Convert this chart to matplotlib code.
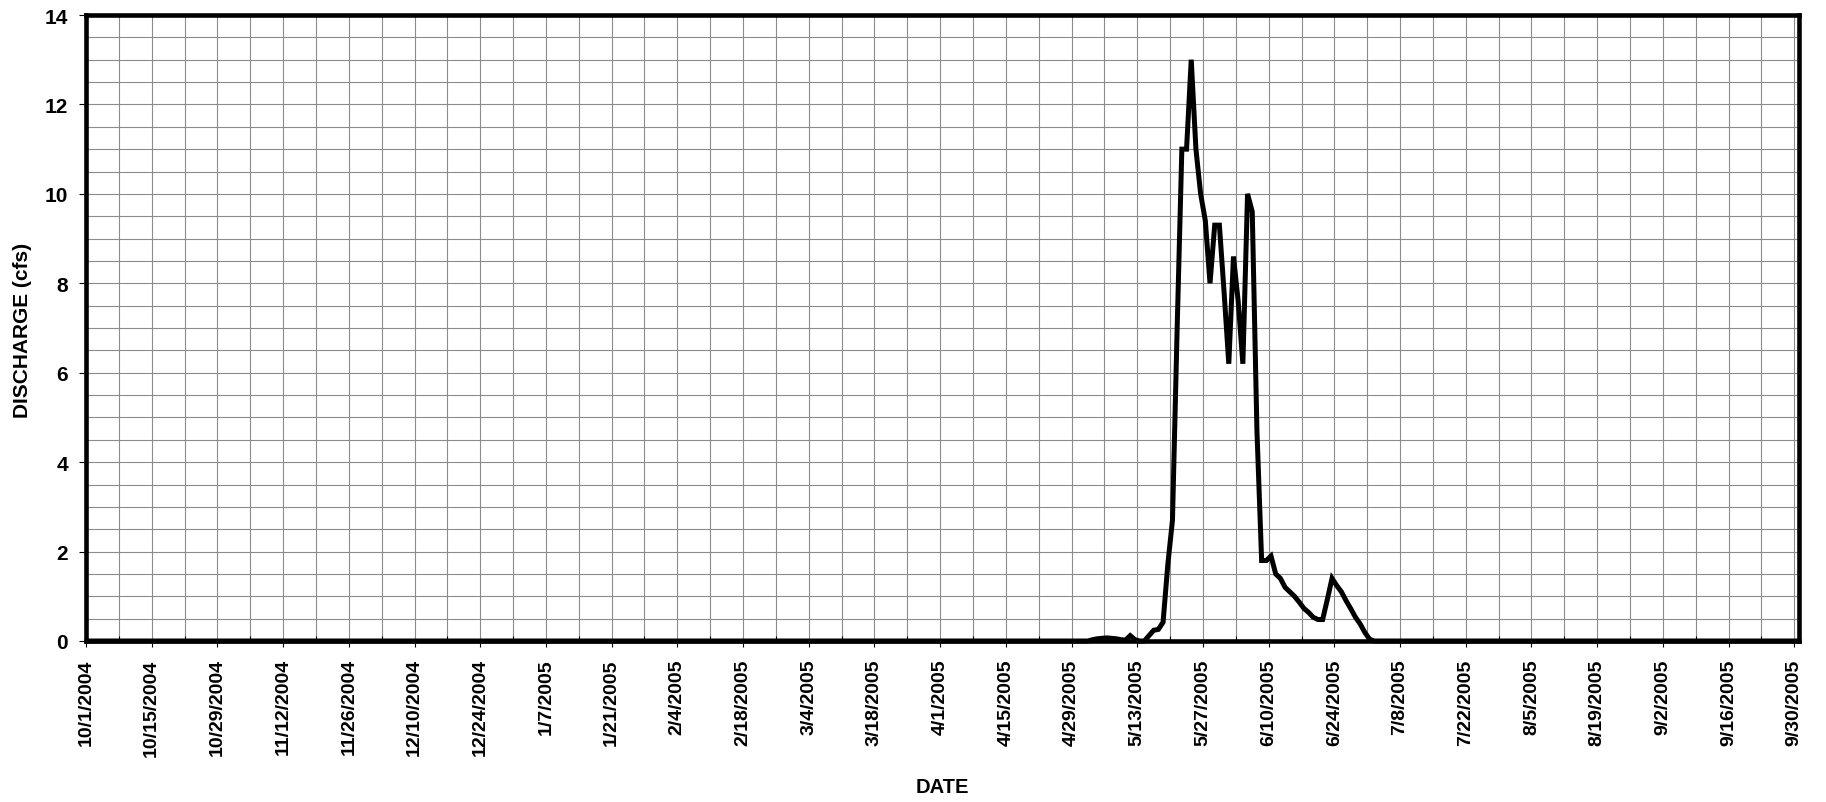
import matplotlib
matplotlib.use("Agg")
import matplotlib.pyplot as plt
import matplotlib.dates as mdates
import numpy as np
import pandas as pd

# ---- data -------------------------------------------------------------
start_date = "2004-10-01"
end_date = "2005-10-01"
# flat zero stretches before/after the event
pre_dates = ["2004-10-01"]
pre_values = [0.0]
# daily values from 5/2/2005 through 7/2/2005
event_start = "2005-05-02"
event_values = [0.0, 0.03, 0.05, 0.06, 0.07, 0.06, 0.05, 0.03, 0.02, 0.12,
                0.03, 0.0, 0.0, 0.12, 0.24, 0.26, 0.42, 1.7, 2.7, 7.0,
                11.0, 11.0, 13.0, 11.0, 10.0, 9.4, 8.0, 9.3, 9.3, 7.8,
                6.2, 8.6, 7.6, 6.2, 10.0, 9.6, 4.7, 1.8, 1.8, 1.9,
                1.5, 1.4, 1.2, 1.1, 1.0, 0.87, 0.73, 0.64, 0.53, 0.48,
                0.48, 0.93, 1.4, 1.24, 1.1, 0.9, 0.72, 0.53, 0.38, 0.19,
                0.04, 0.0]
post_dates = ["2005-09-30"]
post_values = [0.0]

y_ticks = [0, 2, 4, 6, 8, 10, 12, 14]

# ---- build series -----------------------------------------------------
event_dates = pd.date_range(event_start, periods=len(event_values), freq="D")
all_dates = list(pd.to_datetime(pre_dates)) + list(event_dates) + list(pd.to_datetime(post_dates))
all_vals = pre_values + event_values + post_values
x = mdates.date2num(all_dates) + 0.5

W, H = 1826, 803
fig = plt.figure(figsize=(W / 100, H / 100), dpi=100)
plt.rcParams['font.family'] = ['Liberation Sans', 'DejaVu Sans']
ax = fig.add_axes([86 / W, 1 - 642 / H, (1799 - 86) / W, (642 - 16) / H])

x0 = mdates.date2num(pd.Timestamp(start_date))
x1 = mdates.date2num(pd.Timestamp(end_date))
ax.set_xlim(x0, x1)
ax.set_ylim(0, 14)

major = np.arange(x0, x1, 14)
minor = np.arange(x0, x1 + 0.1, 7)
ax.set_xticks(major)
ax.set_xticks(minor, minor=True)
ax.set_xticklabels([f"{d.month}/{d.day}/{d.year}" for d in mdates.num2date(major)],
                   rotation=90, fontsize=14, fontweight='bold')
ax.set_yticks(y_ticks)
ax.set_yticks(np.arange(0, 14.01, 0.5), minor=True)
ax.set_yticklabels([str(v) for v in y_ticks], fontsize=15, fontweight='bold')

ax.grid(True, which='both', color='#8c8c8c', linewidth=0.8)
ax.set_axisbelow(True)

ax.tick_params(axis='x', which='major', direction='out', length=4.5, width=0.8, pad=8)
ax.tick_params(axis='x', which='minor', direction='in', length=3.5, width=0.8)
ax.tick_params(axis='y', which='major', direction='out', length=5, width=0.8, pad=8)
ax.tick_params(axis='y', which='minor', length=0)

for s in ax.spines.values():
    s.set_linewidth(3.3)
    s.set_color('black')

ax.plot(x, all_vals, color='black', linewidth=3.6, solid_joinstyle='miter', zorder=3, clip_on=False)

fig.text(22 / W, 1 - 330 / H, "DISCHARGE (cfs)", rotation=90, ha='center', va='center',
         fontsize=15, fontweight='bold')
fig.text(942 / W, 1 - 788 / H, "DATE", ha='center', va='center', fontsize=14.5, fontweight='bold')

fig.savefig("out.png", dpi=100)
